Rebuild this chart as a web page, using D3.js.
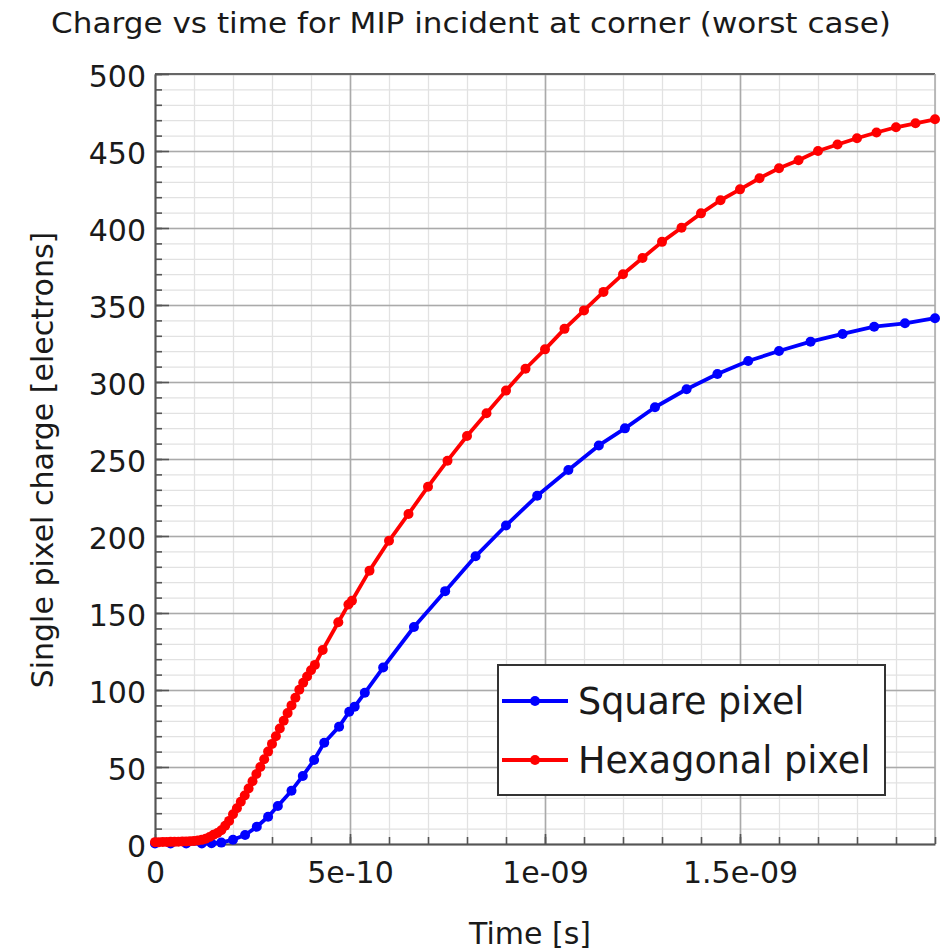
<!DOCTYPE html>
<html>
<head>
<meta charset="utf-8">
<script src="https://cdn.jsdelivr.net/npm/d3@7"></script>
<style>
  body { margin: 0; background: #fff; }
  text { font-family: "DejaVu Sans", sans-serif; fill: #1a1a1a; }
</style>
</head>
<body>
<svg id="chart" width="948" height="952"></svg>
<script>
// ---- data ----
// Hexagonal pixel: fine 10 ps sampling up to 0.41 ns, coarser afterwards
const hexTime = [
  0, 1e-11, 2e-11, 3e-11, 4e-11, 5e-11, 6e-11, 7e-11, 8e-11, 9e-11,
  1.0e-10, 1.1e-10, 1.2e-10, 1.3e-10, 1.4e-10, 1.5e-10, 1.6e-10, 1.7e-10, 1.8e-10, 1.9e-10,
  2.0e-10, 2.1e-10, 2.2e-10, 2.3e-10, 2.4e-10, 2.5e-10, 2.6e-10, 2.7e-10, 2.8e-10, 2.9e-10,
  3.0e-10, 3.1e-10, 3.2e-10, 3.3e-10, 3.4e-10, 3.5e-10, 3.6e-10, 3.7e-10, 3.8e-10, 3.9e-10,
  4.0e-10, 4.1e-10, 4.3e-10, 4.7e-10, 4.96e-10, 5.05e-10,
  5.5e-10, 6.0e-10, 6.5e-10, 7.0e-10, 7.5e-10, 8.0e-10, 8.5e-10, 9.0e-10, 9.5e-10,
  1.0e-9, 1.05e-9, 1.1e-9, 1.15e-9, 1.2e-9, 1.25e-9, 1.3e-9, 1.35e-9, 1.4e-9, 1.45e-9,
  1.5e-9, 1.55e-9, 1.6e-9, 1.65e-9, 1.7e-9, 1.75e-9, 1.8e-9, 1.85e-9, 1.9e-9, 1.95e-9, 2.0e-9
];
const hexCharge = [
  1.2, 1.2, 1.3, 1.3, 1.4, 1.4, 1.5, 1.6, 1.7, 1.8,
  2.0, 2.3, 2.7, 3.4, 4.5, 6.0, 7.2, 8.9, 11.8, 15.0,
  19.3, 23.2, 27.4, 31.5, 36.0, 40.8, 45.5, 50.0, 55.0, 60.0,
  65.0, 70.0, 75.0, 80.0, 85.0, 90.0, 95.0, 100.2, 104.7, 108.8,
  112.8, 116.3, 126.0, 144.0, 155.5, 158.0,
  177.5, 196.9, 214.3, 232.0, 248.9, 264.9, 279.7, 294.4, 308.6,
  321.2, 334.5, 346.5, 358.5, 370.0, 380.5, 391.0, 400.2, 409.5, 418.0,
  425.1, 432.3, 438.8, 444.0, 450.0, 454.2, 458.3, 462.0, 465.4, 468.0, 470.6
];

// Square pixel
const sqTime = [
  0, 4e-11, 8e-11, 1.2e-10, 1.45e-10, 1.7e-10,
  2.0e-10, 2.31e-10, 2.61e-10, 2.9e-10, 3.15e-10, 3.5e-10, 3.79e-10, 4.08e-10, 4.34e-10,
  4.72e-10, 4.98e-10, 5.12e-10, 5.38e-10, 5.85e-10, 6.64e-10, 7.44e-10, 8.22e-10, 9.0e-10,
  9.8e-10, 1.06e-9, 1.138e-9, 1.205e-9, 1.282e-9, 1.363e-9, 1.442e-9, 1.521e-9, 1.6e-9,
  1.681e-9, 1.763e-9, 1.844e-9, 1.923e-9, 2.0e-9
];
const sqCharge = [
  0.3, 0.3, 0.3, 0.4, 0.5, 0.9,
  2.8, 5.8, 11.2, 17.7, 24.7, 34.6, 44.2, 54.5, 65.8,
  76.2, 85.9, 89.2, 98.2, 114.6, 140.9, 164.2, 186.8, 206.8,
  226.1, 242.9, 258.8, 269.9, 283.6, 295.3, 305.2, 313.6, 320.1,
  326.2, 331.2, 335.9, 338.1, 341.4
];

const seriesNames = ["Square pixel", "Hexagonal pixel"];
const seriesColors = ["#0000ff", "#ff0000"];

const xMajorTicks = [0, 5e-10, 1e-9, 1.5e-9];
const xTickLabels = ["0", "5e-10", "1e-09", "1.5e-09"];
const yMajorTicks = [0, 50, 100, 150, 200, 250, 300, 350, 400, 450, 500];

const titleText = "Charge vs time for MIP incident at corner (worst case)";
const xTitle = "Time [s]";
const yTitle = "Single pixel charge [electrons]";

// ---- layout ----
const svg = d3.select("#chart");
const L = 155, R = 935, T = 74, B = 844;

const x = d3.scaleLinear().domain([0, 2e-9]).range([L, R]);
const y = d3.scaleLinear().domain([0, 500]).range([B, T]);

const xMinor = d3.range(0, 21).map(i => i * 1e-10);
const yMinor = d3.range(0, 51).map(i => i * 10);

// minor grid
svg.append("g")
  .attr("transform", `translate(0,${B})`)
  .call(d3.axisBottom(x).tickValues(xMinor).tickSize(-(B - T)).tickFormat(""))
  .call(g => g.select(".domain").remove())
  .call(g => g.selectAll("line").attr("stroke", "#e2e2e2").attr("stroke-width", 1.3));
svg.append("g")
  .attr("transform", `translate(${L},0)`)
  .call(d3.axisLeft(y).tickValues(yMinor).tickSize(-(R - L)).tickFormat(""))
  .call(g => g.select(".domain").remove())
  .call(g => g.selectAll("line").attr("stroke", "#e2e2e2").attr("stroke-width", 1.3));

// major grid
svg.append("g")
  .attr("transform", `translate(0,${B})`)
  .call(d3.axisBottom(x).tickValues(xMajorTicks).tickSize(-(B - T)).tickFormat(""))
  .call(g => g.select(".domain").remove())
  .call(g => g.selectAll("line").attr("stroke", "#aaaaaa").attr("stroke-width", 1.6));
svg.append("g")
  .attr("transform", `translate(${L},0)`)
  .call(d3.axisLeft(y).tickValues(yMajorTicks).tickSize(-(R - L)).tickFormat(""))
  .call(g => g.select(".domain").remove())
  .call(g => g.selectAll("line").attr("stroke", "#aaaaaa").attr("stroke-width", 1.6));

// frame: top and right borders
svg.append("line").attr("x1", L).attr("x2", R).attr("y1", T).attr("y2", T)
  .attr("stroke", "#666").attr("stroke-width", 2);
svg.append("line").attr("x1", R).attr("x2", R).attr("y1", T).attr("y2", B)
  .attr("stroke", "#a8a8a8").attr("stroke-width", 1.5);

// inward tick marks
function inwardTicks(axis, values, size, transform) {
  svg.append("g").attr("transform", transform)
    .call(axis.tickValues(values).tickSize(size).tickFormat(""))
    .call(g => g.select(".domain").remove())
    .call(g => g.selectAll("line").attr("stroke", "#555").attr("stroke-width", 1.6));
}
inwardTicks(d3.axisRight(y), yMinor, 7, `translate(${L},0)`);
inwardTicks(d3.axisRight(y), yMajorTicks, 14, `translate(${L},0)`);
inwardTicks(d3.axisTop(x), xMinor, 7, `translate(0,${B})`);
inwardTicks(d3.axisTop(x), xMajorTicks, 10, `translate(0,${B})`);

// axis lines and tick labels
svg.append("g")
  .attr("transform", `translate(${L},0)`)
  .call(d3.axisLeft(y).tickValues(yMajorTicks).tickSize(0).tickPadding(9))
  .call(g => g.select(".domain").attr("stroke", "#555").attr("stroke-width", 2))
  .call(g => g.selectAll("text")
    .attr("font-family", "DejaVu Sans, sans-serif")
    .attr("font-size", 30).attr("fill", "#1a1a1a").attr("dy", "0.4em"));

svg.append("g")
  .attr("transform", `translate(0,${B})`)
  .call(d3.axisBottom(x).tickValues(xMajorTicks).tickSize(0).tickPadding(18)
    .tickFormat((d, i) => xTickLabels[i]))
  .call(g => g.select(".domain").attr("stroke", "#555").attr("stroke-width", 2))
  .call(g => g.selectAll("text")
    .attr("font-family", "DejaVu Sans, sans-serif")
    .attr("font-size", 30).attr("fill", "#1a1a1a"));

// ---- series ----
const seriesData = [
  sqTime.map((t, i) => ({ t, v: sqCharge[i] })),
  hexTime.map((t, i) => ({ t, v: hexCharge[i] }))
];
const line = d3.line().x(d => x(d.t)).y(d => y(d.v));

const plot = svg.append("g");
seriesData.forEach((pts, s) => {
  const g = plot.append("g");
  g.append("path").datum(pts)
    .attr("d", line)
    .attr("fill", "none")
    .attr("stroke", seriesColors[s])
    .attr("stroke-width", 3.8)
    .attr("stroke-linejoin", "round");
  g.selectAll("circle").data(pts).join("circle")
    .attr("cx", d => x(d.t))
    .attr("cy", d => y(d.v))
    .attr("r", 5)
    .attr("fill", seriesColors[s]);
});

// ---- titles ----
svg.append("text")
  .attr("x", 471).attr("y", 33)
  .attr("text-anchor", "middle")
  .attr("font-size", 29)
  .attr("textLength", 840)
  .attr("lengthAdjust", "spacingAndGlyphs")
  .text(titleText);

svg.append("text")
  .attr("x", (L + R) / 2 - 15).attr("y", 944)
  .attr("text-anchor", "middle")
  .attr("font-size", 30)
  .text(xTitle);

svg.append("text")
  .attr("transform", "translate(53,460) rotate(-90)")
  .attr("text-anchor", "middle")
  .attr("font-size", 30)
  .text(yTitle);

// ---- legend ----
const legend = svg.append("g");
legend.append("rect")
  .attr("x", 498).attr("y", 665).attr("width", 387).attr("height", 130)
  .attr("fill", "#fff").attr("stroke", "#333").attr("stroke-width", 2);
const rowY = [701, 760];
seriesNames.forEach((name, i) => {
  legend.append("line")
    .attr("x1", 502).attr("x2", 568).attr("y1", rowY[i]).attr("y2", rowY[i])
    .attr("stroke", seriesColors[i]).attr("stroke-width", 3.8);
  legend.append("circle")
    .attr("cx", 535).attr("cy", rowY[i]).attr("r", 5)
    .attr("fill", seriesColors[i]);
  legend.append("text")
    .attr("x", 578).attr("y", rowY[i] + 12.5)
    .attr("font-size", 36.5)
    .text(name);
});
</script>
</body>
</html>
